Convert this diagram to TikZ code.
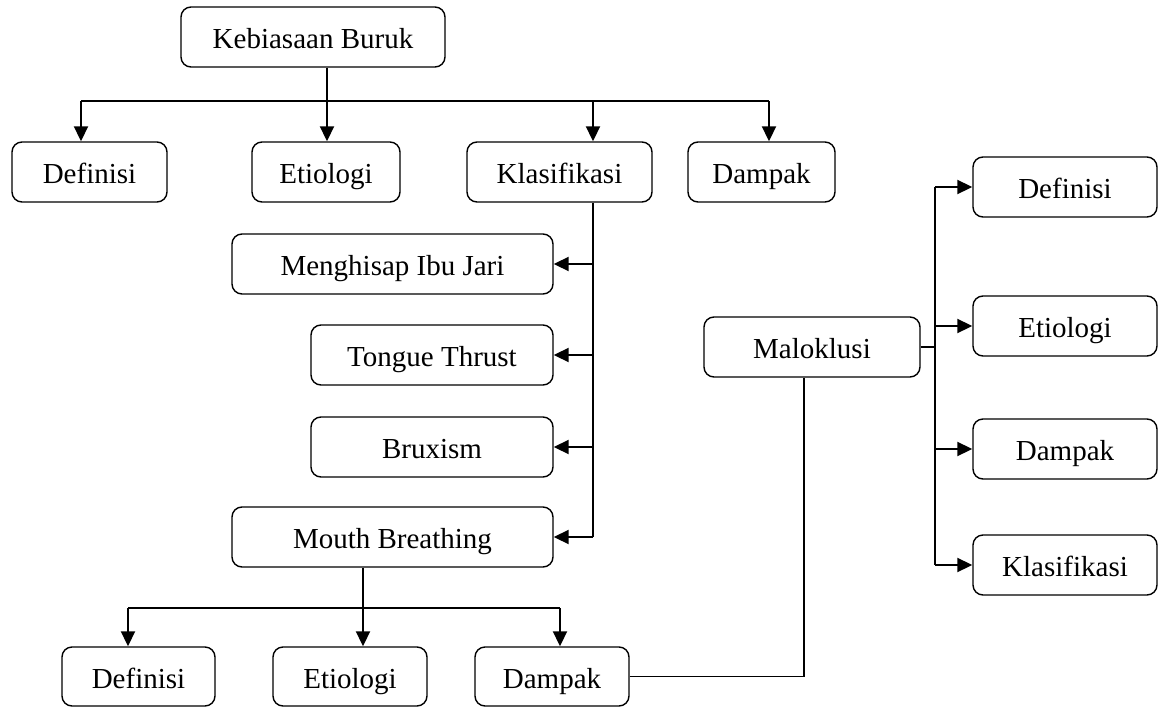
\documentclass[tikz,border=0pt]{standalone}
\usepackage{fontspec}
\setmainfont{Liberation Serif}
\usetikzlibrary{arrows.meta}
\begin{document}
\begin{tikzpicture}[x=1pt,y=-1pt,
  box/.style={draw, rounded corners=10pt, line width=1.4pt, minimum height=60pt,
    inner sep=0pt, text height=23pt, text depth=0pt, font=\fontsize{29}{34}\selectfont},
  conn/.style={line width=1.9pt},
  arrconn/.style={line width=1.9pt, -{Triangle[length=15pt,width=14pt]}}]
\useasboundingbox (0,0) rectangle (1165,707);
% nodes
\node[box, minimum width=264pt] (kb) at (313,37) {Kebiasaan Buruk};
\node[box, minimum width=155pt] (d1) at (89.5,172) {Definisi};
\node[box, minimum width=148pt] (e1) at (326,172) {Etiologi};
\node[box, minimum width=185pt] (k1) at (559.5,172) {Klasifikasi};
\node[box, minimum width=147pt] (p1) at (761.5,172) {Dampak};
\node[box, minimum width=321pt] (mh) at (392.5,264) {Menghisap Ibu Jari};
\node[box, minimum width=242pt] (tt) at (432,355) {Tongue Thrust};
\node[box, minimum width=242pt] (bx) at (432,447) {Bruxism};
\node[box, minimum width=321pt] (mb) at (392.5,537) {Mouth Breathing};
\node[box, minimum width=153pt, minimum height=59pt] (d2) at (138.5,676.5) {Definisi};
\node[box, minimum width=154pt, minimum height=59pt] (e2) at (350,676.5) {Etiologi};
\node[box, minimum width=154pt, minimum height=59pt] (p2) at (552,676.5) {Dampak};
\node[box, minimum width=216pt] (ml) at (812,347) {Maloklusi};
\node[box, minimum width=184pt] (d3) at (1065,187) {Definisi};
\node[box, minimum width=184pt] (e3) at (1065,326) {Etiologi};
\node[box, minimum width=184pt] (p3) at (1065,449) {Dampak};
\node[box, minimum width=184pt] (k3) at (1065,565) {Klasifikasi};
% top tree
\coordinate (a1) at (81,101);
\coordinate (a2) at (327,101);
\coordinate (a3) at (593,101);
\coordinate (a4) at (769,101);
\draw[conn] (kb.south -| a2) -- (a2);
\draw[conn] (a1) -- (a4);
\foreach \c/\n in {a1/d1,a2/e1,a3/k1,a4/p1}
  \draw[arrconn] (\c) -- (\c |- \n.north);
% Klasifikasi trunk
\coordinate (b0) at (593,0);
\draw[conn] (k1.south -| b0) -- (b0 |- mb.east);
\foreach \n in {mh,tt,bx,mb}
  \draw[arrconn] (b0 |- \n.east) -- (\n.east);
% Mouth Breathing tree
\coordinate (c1) at (128,608);
\coordinate (c2) at (363,608);
\coordinate (c3) at (560,608);
\draw[conn] (mb.south -| c2) -- (c2);
\draw[conn] (c1) -- (c3);
\foreach \c/\n in {c1/d2,c2/e2,c3/p2}
  \draw[arrconn] (\c) -- (\c |- \n.north);
% Dampak to Maloklusi
\coordinate (m0) at (804,0);
\draw[conn] (p2.east) -| (m0 |- ml.south);
% Maloklusi tree
\coordinate (r0) at (935,0);
\draw[conn] (ml.east) -- (ml.east -| r0);
\draw[conn] (r0 |- d3.west) -- (r0 |- k3.west);
\foreach \n in {d3,e3,p3,k3}
  \draw[arrconn] (r0 |- \n.west) -- (\n.west);
\end{tikzpicture}
\end{document}
